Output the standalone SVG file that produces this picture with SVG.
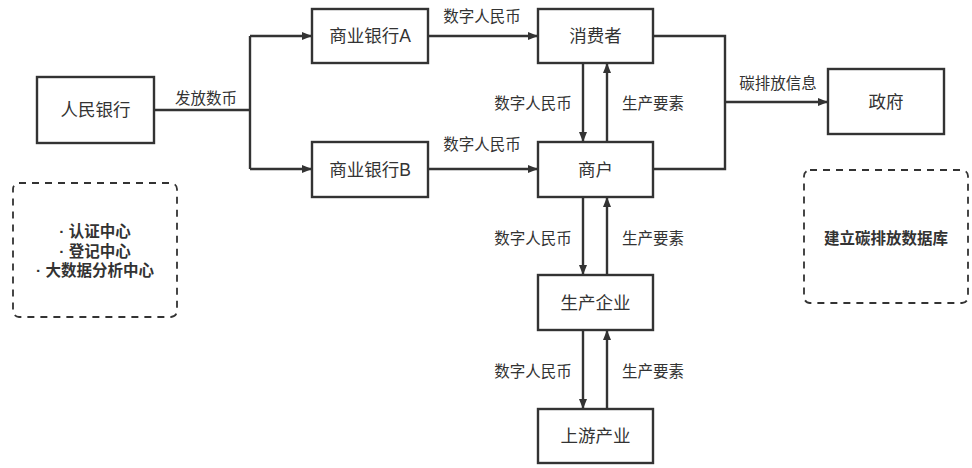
<svg xmlns="http://www.w3.org/2000/svg" width="972" height="468" viewBox="0 0 972 468">
<defs>
<style>
.box{fill:#fff;stroke:#333;stroke-width:2.4}
.dash{fill:none;stroke:#333;stroke-width:1.8;stroke-dasharray:7 6}
.lbl{font-family:"Liberation Sans","Noto Sans CJK SC",sans-serif;font-size:17.5px;fill:#333;text-anchor:middle;dominant-baseline:central}
.el{font-family:"Liberation Sans","Noto Sans CJK SC",sans-serif;font-size:15.5px;fill:#333;text-anchor:middle;dominant-baseline:central}
.bold{font-family:"Liberation Sans","Noto Sans CJK SC",sans-serif;font-size:15.5px;font-weight:bold;fill:#333;text-anchor:middle;dominant-baseline:central}
.ln{fill:none;stroke:#333;stroke-width:2.4}
</style>
<marker id="ah" viewBox="0 0 10 8" refX="10" refY="4" markerWidth="10" markerHeight="8" markerUnits="userSpaceOnUse" orient="auto">
<path d="M0,0 L10,4 L0,8 Z" fill="#333"/>
</marker>
</defs>
<rect width="972" height="468" fill="#fff"/>
<g id="connectors">
<path class="ln" d="M154,110 H250"/>
<path class="ln" d="M250,36 V169"/>
<path class="ln" d="M250,36 H312" marker-end="url(#ah)"/>
<path class="ln" d="M250,169 H312" marker-end="url(#ah)"/>
<path class="ln" d="M428,36 H538" marker-end="url(#ah)"/>
<path class="ln" d="M428,169 H538" marker-end="url(#ah)"/>
<path class="ln" d="M653,36 H725 V169 H653"/>
<path class="ln" d="M725,102 H828" marker-end="url(#ah)"/>
<path class="ln" d="M583,63 V142" marker-end="url(#ah)"/>
<path class="ln" d="M607,142 V63" marker-end="url(#ah)"/>
<path class="ln" d="M583,197 V275" marker-end="url(#ah)"/>
<path class="ln" d="M607,275 V197" marker-end="url(#ah)"/>
<path class="ln" d="M583,330 V409" marker-end="url(#ah)"/>
<path class="ln" d="M607,409 V330" marker-end="url(#ah)"/>
<text class="el" x="206" y="98">发放数币</text>
<text class="el" x="482" y="16.5">数字人民币</text>
<text class="el" x="482" y="144.5">数字人民币</text>
<text class="el" x="778" y="83">碳排放信息</text>
<text class="el" x="533" y="103.5">数字人民币</text>
<text class="el" x="653" y="103.5">生产要素</text>
<text class="el" x="533" y="238.5">数字人民币</text>
<text class="el" x="653" y="238.5">生产要素</text>
<text class="el" x="533" y="371.5">数字人民币</text>
<text class="el" x="653" y="371.5">生产要素</text>
</g>
<g id="pboc"><rect class="box" x="37" y="77" width="117" height="66"/><text class="lbl" x="95.5" y="110">人民银行</text></g>
<g id="bankA"><rect class="box" x="312" y="9" width="116" height="54"/><text class="lbl" x="370" y="36">商业银行A</text></g>
<g id="bankB"><rect class="box" x="312" y="142" width="116" height="55"/><text class="lbl" x="370" y="169.5">商业银行B</text></g>
<g id="consumer"><rect class="box" x="538" y="9" width="115" height="54"/><text class="lbl" x="595.5" y="36">消费者</text></g>
<g id="merchant"><rect class="box" x="538" y="142" width="115" height="55"/><text class="lbl" x="595.5" y="169.5">商户</text></g>
<g id="producer"><rect class="box" x="538" y="275" width="115" height="55"/><text class="lbl" x="595.5" y="302.5">生产企业</text></g>
<g id="upstream"><rect class="box" x="538" y="409" width="115" height="54"/><text class="lbl" x="595.5" y="436">上游产业</text></g>
<g id="gov"><rect class="box" x="828" y="69" width="116" height="65"/><text class="lbl" x="886" y="101.5">政府</text></g>
<g id="centers"><rect class="dash" x="13" y="183" width="164" height="134" rx="6"/>
<text class="bold" x="95" y="231.7">· 认证中心</text>
<text class="bold" x="95" y="251">· 登记中心</text>
<text class="bold" x="95" y="270.7">· 大数据分析中心</text></g>
<g id="database"><rect class="dash" x="804" y="170" width="164" height="133" rx="6"/>
<text class="bold" x="886" y="238">建立碳排放数据库</text></g>
</svg>
